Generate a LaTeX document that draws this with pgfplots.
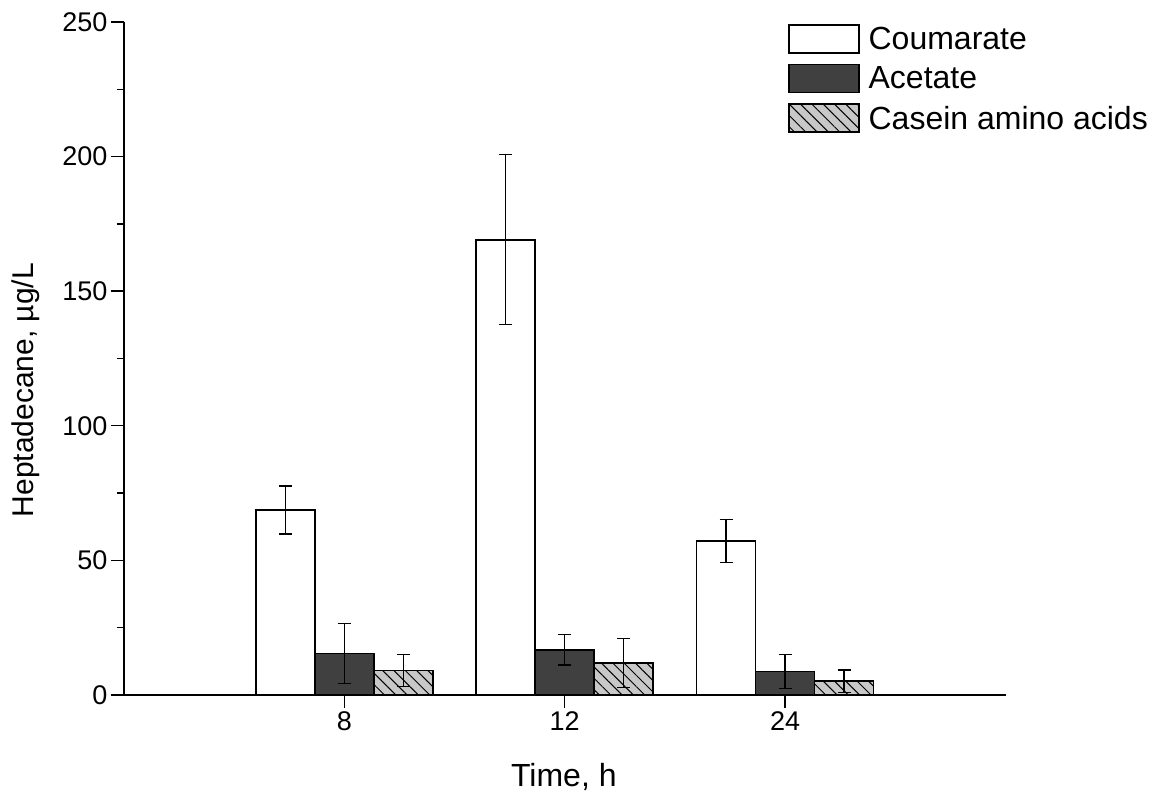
\documentclass[border=0pt]{standalone}
\usepackage{fontspec}
\setmainfont{Liberation Sans}
\usepackage{pgfplots}
\pgfplotsset{compat=1.18}
\usetikzlibrary{patterns.meta}
\definecolor{darkbar}{HTML}{404040}
\definecolor{lightbar}{HTML}{C8C8C8}
\pgfplotsset{boxlegend/.style={legend image code/.code={\draw[##1] (0pt,-14pt) rectangle (70pt,14pt);}},
  myerr/.style={error bars/.cd, y dir=both, y explicit,
  error bar style={line width=1.3pt, black},
  error mark options={rotate=90, mark size=6.5pt, line width=1.3pt, black}}}
\begin{document}
\begin{tikzpicture}
\begin{axis}[
 scale only axis, width=881.5pt, height=673pt,
 xmin=-1, xmax=3.0, ymin=0, ymax=250,
 axis lines*=left,
 axis line style={line width=1.6pt},
 ybar=0pt, bar width=59pt,
 xtick={0,1,2}, xticklabels={8,12,24},
 ytick={0,50,...,250}, minor y tick num=1,
 tick align=outside, major tick length=13pt, minor tick length=7pt,
 tick style={black, line width=1.4pt},
 /pgf/number format/assume math mode=true,
 tick label style={font=\fontsize{27}{32}\selectfont},
 xlabel={Time, h}, ylabel={Heptadecane, µg/L},
 xlabel style={font=\fontsize{32}{38}\selectfont, at={(axis description cs:0.499,-0.122)}, anchor=center},
 ylabel style={font=\fontsize{30}{36}\selectfont, at={(axis description cs:-0.112,0.453)}, anchor=center},
 legend style={draw=none, fill=none, at={(axis description cs:1.164,0.997)}, anchor=north east,
   inner sep=0pt, font=\fontsize{32}{38}\selectfont, row sep=10pt,
   nodes={inner sep=2pt},
   /tikz/every odd column/.append style={column sep=7pt}},
 legend cell align=left,
 clip=false,
]
\coordinate (o) at (rel axis cs:0,0);
\addplot[draw=black, line width=1.6pt, fill=white, boxlegend, myerr]
 coordinates {(0,68.7) +- (0,8.9) (1,169.1) +- (0,31.6) (2,57.1) +- (0,8.0)};
\addplot[draw=black, line width=1.6pt, fill=darkbar, boxlegend, myerr]
 coordinates {(0,15.4) +- (0,11.1) (1,16.8) +- (0,5.6) (2,8.7) +- (0,6.4)};
\addplot[draw=black, line width=1.6pt, fill=lightbar,
  postaction={pattern={Lines[angle=-45, distance=8pt, line width=1pt]}},
  boxlegend, myerr]
 coordinates {(0,9.1) +- (0,5.9) (1,11.9) +- (0,9.0) (2,5.1) +- (0,4.2)};
\legend{Coumarate, Acetate, Casein amino acids}
\end{axis}
\pgfresetboundingbox
\path (o) ++(-124pt,-102pt) rectangle ++(1155pt,797pt);
\end{tikzpicture}
\end{document}
